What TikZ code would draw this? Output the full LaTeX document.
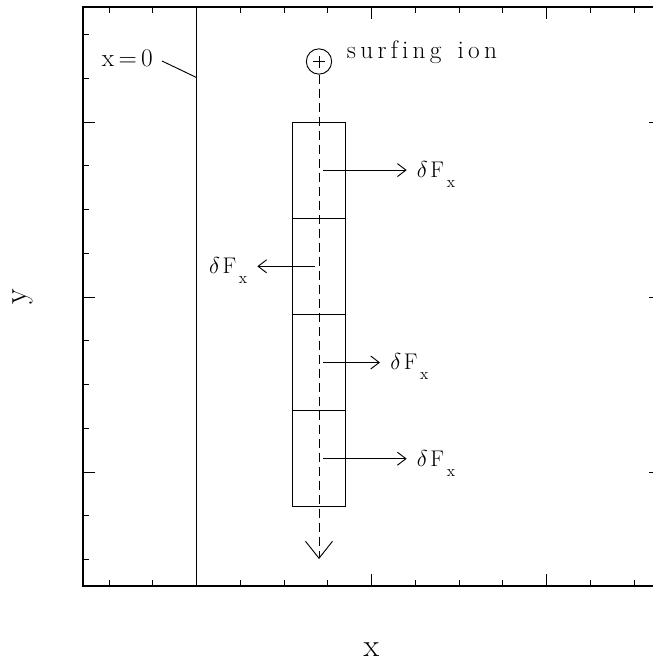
\documentclass[tikz,border=0pt]{standalone}
\usepackage{fontspec}
\usetikzlibrary{arrows.meta}
\newcommand\dfxlabel{$\delta$\kern2pt F\kern2pt\raisebox{-7.5pt}{\fontsize{12}{14}\selectfont x}}
\def\lspamount{3.2pt}
\def\lspaced#1{\lspacedloop#1\relax}
\def\lspacedloop#1{\ifx#1\relax\else#1\kern\lspamount\expandafter\lspacedloop\fi}
\begin{document}
\begin{tikzpicture}[x=0.75pt,y=-0.75pt,
  ln/.style={line width=0.7pt},
  framebox/.style={line width=1.6pt},
  cell/.style={draw,ln,rectangle,minimum width=39.45pt,minimum height=72.15pt,inner sep=0pt},
  lab/.style={inner sep=0pt,font=\fontsize{17}{20}\selectfont},
  wlab/.style={inner sep=0pt,font=\fontsize{19}{22}\selectfont},
  axlab/.style={inner sep=0pt,font=\fontsize{24}{28}\selectfont},
  force/.style={ln,-{Straight Barb[length=6.4pt,width=9.75pt]}},
  path/.style={ln,dash pattern=on 6.75pt off 3.75pt,-{Straight Barb[length=12.75pt,width=20.25pt]}}]
\useasboundingbox (0,0) rectangle (653,661);
\clip (0,0) rectangle (653,661);
% frame
\draw[framebox] (83,7.3) rectangle (661.4,585.7);
% ticks
\foreach \k in {0,...,12} {
  \pgfmathsetmacro\xx{109+43.75*\k}
  \pgfmathsetmacro\yy{34.5+43.75*\k}
  \pgfmathsetmacro\L{ifthenelse(mod(\k,4)==2,12,6)}
  \draw[ln] (\xx,585.7) -- ++(0,-\L);
  \draw[ln] (\xx,7.3) -- ++(0,\L);
  \draw[ln] (83,\yy) -- ++(\L,0);
  \draw[ln] (661.4,\yy) -- ++(-\L,0);
}
% x=0 line
\coordinate (ztop) at (196.5,7.3);
\coordinate (zbot) at (196.5,585.7);
\draw[ln] (ztop) -- (zbot);
\node[wlab,anchor=base west] (zlab) at (101.7,66) {\lspaced{x=0}};
\coordinate (lead1) at (162,61);
\coordinate (lead2) at (196.5,77.5);
\draw[ln] (lead1) -- (lead2);
% cells
\node[cell] (c1) at (319,170.1) {};
\node[cell] (c2) at (319,266.3) {};
\node[cell] (c3) at (319,362.5) {};
\node[cell] (c4) at (319,458.7) {};
% ion
\node[circle,draw,ln,minimum size=19pt,inner sep=0pt] (ion) at (319,61.5) {};
\draw[ln] ([xshift=-4.5pt]ion.center) -- ([xshift=4.5pt]ion.center);
\draw[ln] ([yshift=-4.5pt]ion.center) -- ([yshift=4.5pt]ion.center);
\node[wlab,anchor=base west] (surf) at (346.7,58.3) {\lspaced{surfing}\kern\lspamount\ \lspaced{ion}};
\coordinate (ptip) at (319,559);
\draw[path] (ion.south) -- (ptip);
% forces
\coordinate (a1) at (323.3,170.1);
\coordinate (t1) at (406.7,170.1);
\coordinate (a2) at (315,266.3);
\coordinate (t2) at (257.3,266.3);
\coordinate (a3) at (323.3,362.5);
\coordinate (t3) at (380,362.5);
\coordinate (a4) at (323.3,458.7);
\coordinate (t4) at (406.7,458.7);
\draw[force] (a1) -- (t1);
\draw[force] (a2) -- (t2);
\draw[force] (a3) -- (t3);
\draw[force] (a4) -- (t4);
\node[lab,anchor=base west] (f1) at (416.7,177.5) {\dfxlabel};
\node[lab,anchor=base east] (f2) at (247.5,273.7) {\dfxlabel};
\node[lab,anchor=base west] (f3) at (390,369.9) {\dfxlabel};
\node[lab,anchor=base west] (f4) at (416.7,466.1) {\dfxlabel};
% axis labels
\node[axlab] (ylab) at (22.5,296.5) [rotate=90] {y};
\node[axlab] (xlab) at (371.5,649.5) {x};
\end{tikzpicture}
\end{document}
